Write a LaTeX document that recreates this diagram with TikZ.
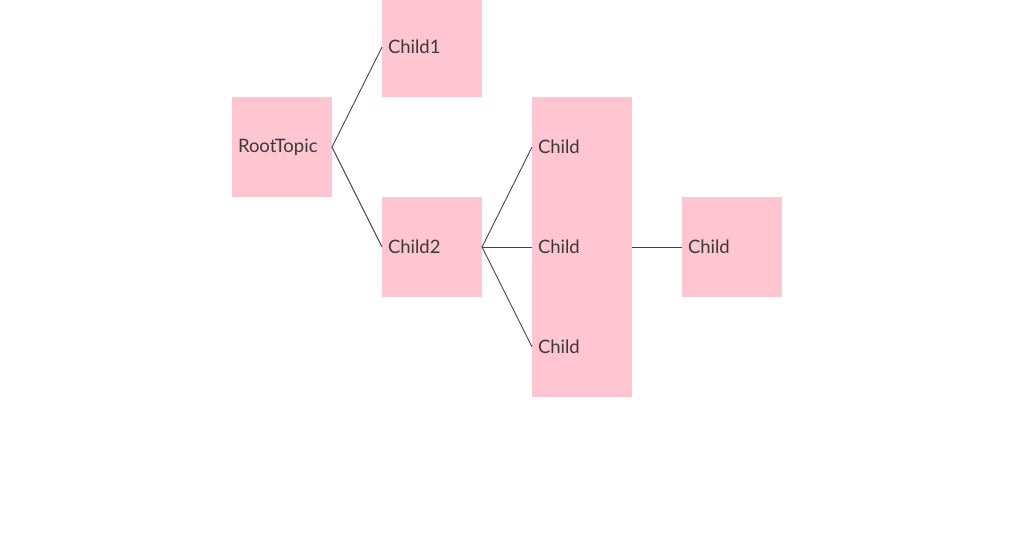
\documentclass[tikz,border=0pt]{standalone}
\usepackage{fontspec}
\setmainfont{Lato}
\usepackage{tikz}
\usetikzlibrary{positioning}
\definecolor{topicpink}{HTML}{FFC6D2}
\definecolor{topictext}{HTML}{3A3A3A}
\definecolor{branchline}{HTML}{444444}
\tikzset{topic/.style = {rectangle, fill = topicpink, text = topictext, inner sep = 6pt, outer sep = 0pt, text width = 88pt, minimum height = 100pt, align = left, font = \fontsize{18.5}{20}\selectfont}}
\tikzset{branch/.style = {draw = branchline, line width = 0.9pt}}

\begin{document}
\begin{tikzpicture}[x = 1pt, y = 1pt]
\useasboundingbox (0,0) rectangle (1012,-536);
\node [topic] (root) at (282,-147) {RootTopic};
\node [topic, right = 50pt of root, yshift = 100pt] (child1) {Child1};
\node [topic, right = 50pt of root, yshift = -100pt] (child2) {Child2};
\node [topic, right = 50pt of child2, yshift = 100pt] (grand1) {Child};
\node [topic, right = 50pt of child2] (grand2) {Child};
\node [topic, right = 50pt of child2, yshift = -100pt] (grand3) {Child};
\node [topic, right = 50pt of grand2] (great) {Child};
\draw [branch] (root.east) -- (child1.west);
\draw [branch] (root.east) -- (child2.west);
\draw [branch] (child2.east) -- (grand1.west);
\draw [branch] (child2.east) -- (grand2.west);
\draw [branch] (child2.east) -- (grand3.west);
\draw [branch] (grand2.east) -- (great.west);
\end{tikzpicture}
\end{document}
